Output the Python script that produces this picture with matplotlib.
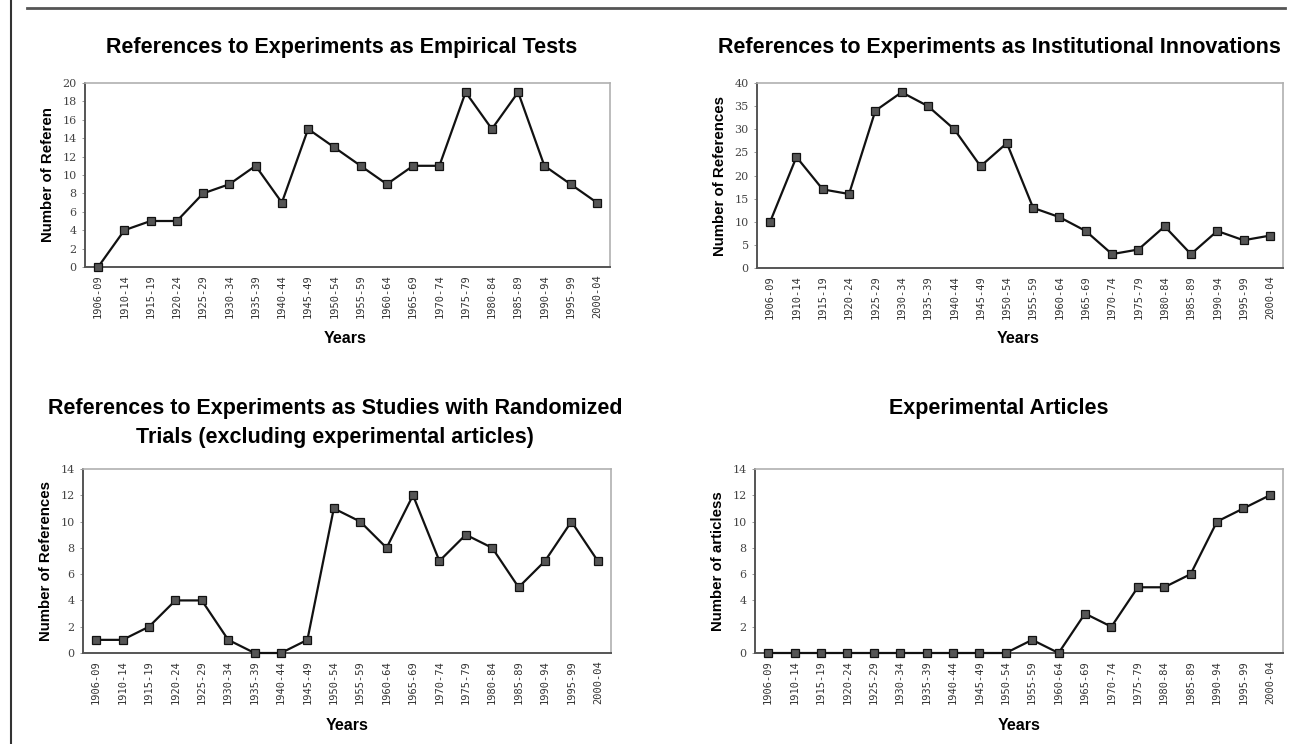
import numpy as np
import matplotlib
matplotlib.use("Agg")
import matplotlib.pyplot as plt
from matplotlib.lines import Line2D

periods = ["1906-09", "1910-14", "1915-19", "1920-24", "1925-29", "1930-34",
           "1935-39", "1940-44", "1945-49", "1950-54", "1955-59", "1960-64",
           "1965-69", "1970-74", "1975-79", "1980-84", "1985-89", "1990-94",
           "1995-99", "2000-04"]

empirical = [0, 4, 5, 5, 8, 9, 11, 7, 15, 13, 11, 9, 11, 11, 19, 15, 19, 11, 9, 7]
institutional = [10, 24, 17, 16, 34, 38, 35, 30, 22, 27, 13, 11, 8, 3, 4, 9, 3, 8, 6, 7]
randomized = [1, 1, 2, 4, 4, 1, 0, 0, 1, 11, 10, 8, 12, 7, 9, 8, 5, 7, 10, 7]
articles = [0, 0, 0, 0, 0, 0, 0, 0, 0, 0, 1, 0, 3, 2, 5, 5, 6, 10, 11, 12]

titles = ["References to Experiments as Empirical Tests",
          "References to Experiments as Institutional Innovations",
          "References to Experiments as Studies with Randomized\nTrials (excluding experimental articles)",
          "Experimental Articles"]
ylabels = ["Number of Referen", "Number of References",
           "Number of References", "Number of articless"]
yticks = [np.arange(0, 21, 2), np.arange(0, 41, 5),
          np.arange(0, 15, 2), np.arange(0, 15, 2)]
series = [empirical, institutional, randomized, articles]

W, H = 1291, 744
fig = plt.figure(figsize=(W / 100, H / 100), dpi=100)
plt.rcParams['font.family'] = ['Liberation Sans', 'DejaVu Sans']

# axes boxes in pixels: left, top, right, bottom
boxes = [(85, 83, 610, 267), (757, 83, 1283, 268),
         (83, 469, 611, 653), (755, 469, 1283, 653)]
title_pos = [(342, 47), (999, 47), (335, 423), (999, 409)]
xlabel_pos = [(345, 338), (1018, 338), (347, 725), (1019, 725)]

x = np.arange(len(periods))
for i, (l, t, r, b) in enumerate(boxes):
    ax = fig.add_axes([l / W, 1 - b / H, (r - l) / W, (b - t) / H])
    ax.plot(x, series[i], color='#111111', lw=1.6, marker='s', ms=6,
            mfc='#555555', mec='#111111', mew=0.9, clip_on=False, zorder=3)
    ax.set_xlim(-0.5, len(periods) - 0.5)
    ax.set_ylim(yticks[i][0], yticks[i][-1])
    ax.set_yticks(yticks[i])
    ax.set_yticklabels([str(v) for v in yticks[i]], fontsize=8,
                       family='DejaVu Serif', color='#444444')
    ax.set_xticks(x)
    ax.set_xticklabels(periods, rotation=90, fontsize=7.5,
                       family='DejaVu Sans Mono', color='#333333')
    ax.tick_params(axis='both', length=2, width=0.6, color='#888888', pad=4)
    ax.tick_params(axis='x', length=0, pad=5)
    for side in ['top', 'right']:
        ax.spines[side].set_color('#b0b0b0')
        ax.spines[side].set_linewidth(1.2)
    for side in ['left', 'bottom']:
        ax.spines[side].set_color('#555555')
        ax.spines[side].set_linewidth(1.4)
    ax.set_ylabel(ylabels[i], fontsize=10.8, fontweight='bold', labelpad=5)
    fig.text(title_pos[i][0] / W, 1 - title_pos[i][1] / H, titles[i],
             ha='center', va='center', fontsize=15.5, fontweight='bold',
             linespacing=1.5)
    fig.text(xlabel_pos[i][0] / W, 1 - xlabel_pos[i][1] / H, "Years",
             ha='center', va='center', fontsize=11.5, fontweight='bold')

# page frame lines
fig.add_artist(Line2D([11 / W, 11 / W], [0, 1], color='#333333', lw=1.5))
fig.add_artist(Line2D([27 / W, 1285 / W], [1 - 8 / H, 1 - 8 / H],
                      color='#555555', lw=2))

fig.savefig("out.png", dpi=100)
